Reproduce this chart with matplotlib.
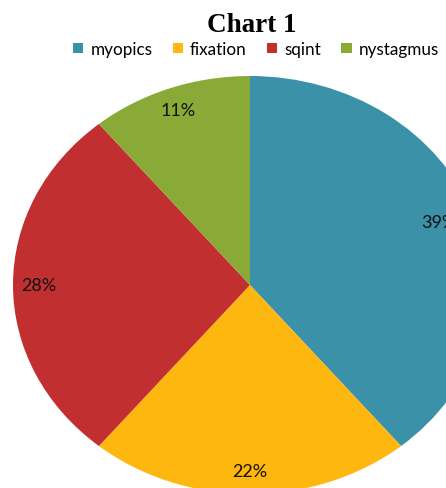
import matplotlib
matplotlib.use('Agg')
import matplotlib.pyplot as plt
from matplotlib.patches import Patch

categories = ['myopics', 'fixation', 'sqint', 'nystagmus']
shares = [39, 22, 28, 11]
colors = ['#3A91A8', '#FDB70F', '#C22F31', '#89AA37']

W, H = 446, 489
fig = plt.figure(figsize=(W / 100, H / 100), dpi=100)

# pie is stretched into an ellipse and cut off at the right and bottom
cx, cy, rx, ry = 250, 286, 237, 209
ax = fig.add_axes([(cx - rx) / W, (H - cy - ry) / H, 2 * rx / W, 2 * ry / H])
wedges, texts, autotexts = ax.pie(
    shares, colors=colors, startangle=90, counterclock=False,
    autopct=lambda p: f'{p:.0f}%', pctdistance=0.89,
    wedgeprops={'linewidth': 0},
    textprops={'fontsize': 13, 'family': 'Lato', 'color': '#111111'})
ax.set_aspect('auto')
ax.set_xlim(-1, 1)
ax.set_ylim(-1, 1)
ax.axis('off')

# the 39% label sits a little further in, as in the original
x0, y0 = autotexts[0].get_position()
autotexts[0].set_position((x0 - 0.04, y0))

fig.text(cx / W + 0.005, 1 - 25 / H, 'Chart 1', ha='center', va='center',
         fontsize=19.5, fontweight='bold', family='Liberation Serif')

handles = [Patch(facecolor=c, edgecolor='none') for c in colors]
fig.legend(handles, categories, loc='center', bbox_to_anchor=(256 / W, 1 - 50 / H),
           ncol=4, frameon=False, handlelength=0.6, handleheight=0.6,
           handletextpad=0.4, columnspacing=1.2, borderpad=0,
           prop={'family': 'Lato', 'size': 12.3})

plt.savefig('out.png', dpi=100)
plt.close()
